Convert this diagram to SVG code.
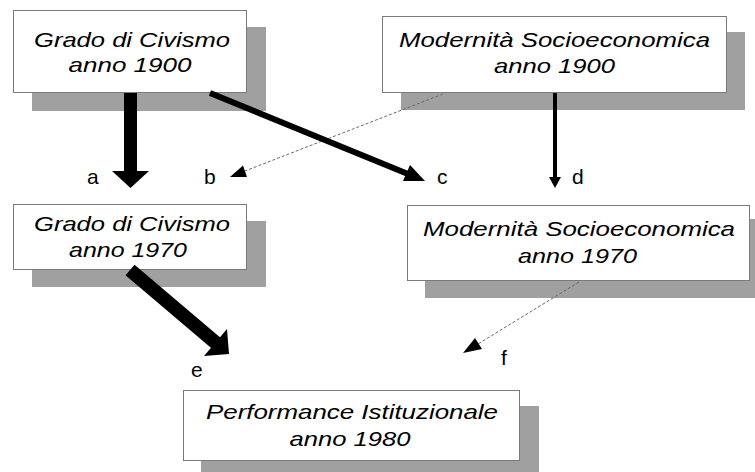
<svg xmlns="http://www.w3.org/2000/svg" width="755" height="472" viewBox="0 0 755 472">
<style>
.shadow{fill:#a0a0a0}
.box{fill:#ffffff;stroke:#7a7a7a;stroke-width:1}
.t{font-family:"Liberation Sans",Arial,sans-serif;font-style:italic;font-size:21px;fill:#000;text-anchor:middle}
.lbl{font-family:"Liberation Sans",Arial,sans-serif;font-size:21px;fill:#000}
.dash{stroke:#6a6a6a;stroke-width:1;stroke-dasharray:3 2;fill:none}
</style>
<rect width="755" height="472" fill="#ffffff"/>
<g id="node-civismo-1900">
<rect class="shadow" x="32" y="27" width="234" height="84"/>
<rect class="box" x="13.5" y="10.5" width="233" height="82"/>
<text class="t" x="132" y="47" textLength="196" lengthAdjust="spacingAndGlyphs">Grado di Civismo</text>
<text class="t" x="130" y="72" textLength="123" lengthAdjust="spacingAndGlyphs">anno 1900</text>
</g>
<g id="node-modernita-1900">
<rect class="shadow" x="401" y="32" width="344" height="78"/>
<rect class="box" x="382.5" y="16.5" width="344" height="76"/>
<text class="t" x="554.5" y="47" textLength="311" lengthAdjust="spacingAndGlyphs">Modernità Socioeconomica</text>
<text class="t" x="554.5" y="73" textLength="121" lengthAdjust="spacingAndGlyphs">anno 1900</text>
</g>
<g id="node-civismo-1970">
<rect class="shadow" x="32" y="221" width="234" height="66"/>
<rect class="box" x="13.5" y="204.5" width="233" height="65"/>
<text class="t" x="132" y="231" textLength="196" lengthAdjust="spacingAndGlyphs">Grado di Civismo</text>
<text class="t" x="128" y="257" textLength="118" lengthAdjust="spacingAndGlyphs">anno 1970</text>
</g>
<g id="node-modernita-1970">
<rect class="shadow" x="425" y="219" width="330" height="79"/>
<rect class="box" x="407.5" y="205.5" width="342" height="75"/>
<text class="t" x="579" y="236" textLength="312" lengthAdjust="spacingAndGlyphs">Modernità Socioeconomica</text>
<text class="t" x="577.5" y="263" textLength="119" lengthAdjust="spacingAndGlyphs">anno 1970</text>
</g>
<g id="node-performance-1980">
<rect class="shadow" x="201" y="406" width="338" height="66"/>
<rect class="box" x="183.5" y="390.5" width="336" height="70"/>
<text class="t" x="352" y="419" textLength="292" lengthAdjust="spacingAndGlyphs">Performance Istituzionale</text>
<text class="t" x="350" y="446" textLength="121" lengthAdjust="spacingAndGlyphs">anno 1980</text>
</g>
<g id="connectors">
<g id="edge-a">
<rect x="124" y="93" width="13" height="79" fill="#000"/>
<polygon points="112,171 149,171 130.5,188" fill="#000"/>
</g>
<g id="edge-b">
<line class="dash" x1="443" y1="94" x2="245" y2="171"/>
<polygon points="230,177 247,177 243,165.5" fill="#000"/>
</g>
<g id="edge-c">
<line x1="210" y1="93" x2="408" y2="174" stroke="#000" stroke-width="6"/>
<polygon points="425,181 403,181 410,165" fill="#000"/>
</g>
<g id="edge-d">
<line x1="555" y1="93" x2="555" y2="178" stroke="#000" stroke-width="4"/>
<polygon points="549,177 561,177 555,188" fill="#000"/>
</g>
<g id="edge-e">
<line x1="130" y1="270" x2="216" y2="343" stroke="#000" stroke-width="14"/>
<polygon points="229,354 204,356 227,329" fill="#000"/>
</g>
<g id="edge-f">
<line class="dash" x1="579" y1="282" x2="478" y2="344"/>
<polygon points="463,353 482,349 475,338" fill="#000"/>
</g>
<text class="lbl" x="87" y="184">a</text>
<text class="lbl" x="204" y="184">b</text>
<text class="lbl" x="437" y="184">c</text>
<text class="lbl" x="572" y="184">d</text>
<text class="lbl" x="191" y="377">e</text>
<text class="lbl" x="501" y="365">f</text>
</g>
</svg>
